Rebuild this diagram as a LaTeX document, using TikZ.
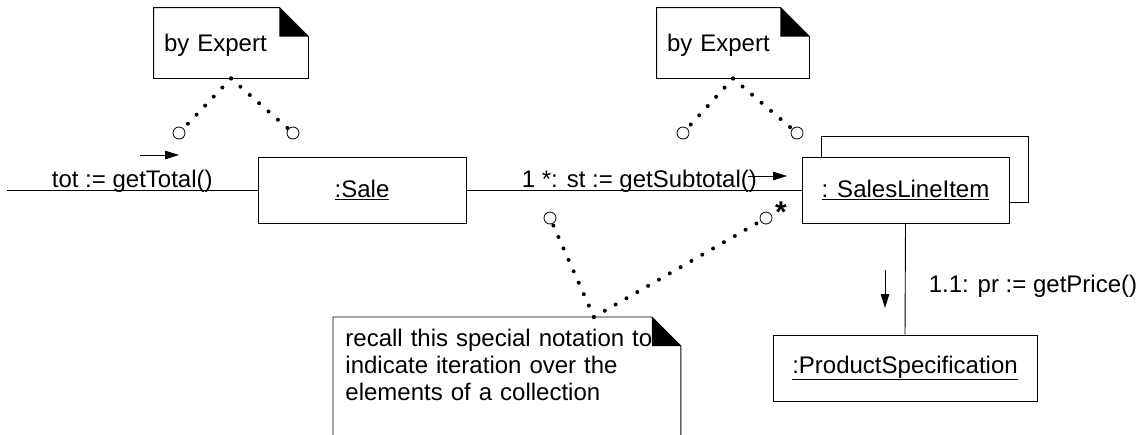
\documentclass[tikz,border=0pt]{standalone}
\usepackage{fontspec}
\setmainfont{Liberation Sans}
\usetikzlibrary{arrows.meta,calc,shadows}

\tikzset{
  obj/.style={draw, fill=white, minimum height=66pt, inner sep=0pt},
  note/.style={inner xsep=10pt, inner ysep=0pt, minimum height=70pt, align=left},
  port/.style={circle, draw, fill=white, line width=0.8pt, minimum size=12pt, inner sep=0pt},
  dotline/.style={line width=4pt, line cap=round, dash pattern=on 0pt off 12.5pt},
  msg/.style={-{Triangle[length=14pt,width=8.5pt]}},
}
% note outline with folded corner
\newcommand{\dogear}[2]{%
  \draw (#1.north west) -- ([xshift=-29pt]#1.north east)
    -- ([yshift=-29pt]#1.north east) -- (#1.east |- #2)
    -- (#1.west |- #2) -- cycle;
  \fill ([xshift=-29pt]#1.north east) -- ([xshift=-29pt,yshift=-29pt]#1.north east)
    -- ([yshift=-29pt]#1.north east) -- cycle;
}

\begin{document}
\begin{tikzpicture}[x=1pt,y=-1pt,line width=0.9pt,font=\fontsize{24}{27}\selectfont]
  \useasboundingbox (0,0) rectangle (1147,434);
  \clip (0,0) rectangle (1147,434);
  % objects
  \node[obj, minimum width=208pt] (sale) at (362,190) {\underline{:Sale}};
  \node[obj, minimum width=207pt,
    copy shadow={shadow xshift=19pt, shadow yshift=21pt}] (sli) at (905.5,190) {\underline{: SalesLineItem}};
  \node[obj, minimum width=264pt] (spec) at (905,368) {\underline{:ProductSpecification}};

  % notes
  \node[note, text width=134pt, text depth=0pt] (expA) at (231,43) {by Expert};
  \node[note, text width=132pt, text depth=0pt] (expB) at (733,43) {by Expert};
  \node[note, inner xsep=12pt, inner ysep=12pt, text width=323pt, minimum height=0pt,
    anchor=north west] (iter) at (333,317)
    {recall this special notation to\\indicate iteration over the\\elements of a collection};
  \coordinate (iterbot) at (333,450);
  \dogear{expA}{expA.south}
  \dogear{expB}{expB.south}
  \dogear{iter}{iterbot}

  % ends of the note links
  \node[port] (pA1) at (179,133) {};
  \node[port] (pA2) at (293,133) {};
  \node[port] (pB1) at (683,133) {};
  \node[port] (pB2) at (797,133) {};
  \node[port] (pC1) at (550,218) {};
  \node[port] (pC2) at (766,218) {};
  \node[font=\fontsize{30}{30}\selectfont\bfseries, inner sep=0pt] (many) at (781,212) {*};

  \draw[dotline] (expA.south) -- (pA1);
  \draw[dotline] (expA.south) -- (pA2);
  \draw[dotline] (expB.south) -- (pB1);
  \draw[dotline] (expB.south) -- (pB2);
  \coordinate (pin) at ($(iter.north west)!0.75!(iter.north east)$);
  \draw[dotline] (pin) -- (pC1);
  \draw[dotline] (pin) -- (pC2);

  % links
  \coordinate (caller) at (7,190);
  \draw (caller) -- (sale.west)
    node[midway, anchor=base, yshift=3pt] (totlbl) {tot := getTotal()};
  \draw (sale.east) -- (sli.west)
    node[pos=0.516, anchor=base, yshift=3pt] (sublbl) {1 *: st := getSubtotal()};
  \draw (sli.south) -- (spec.north);
  \node[anchor=base west] (pricelbl) at (925,292) {1.1: pr := getPrice()};

  % message arrows
  \coordinate (m1a) at (140,155);
  \coordinate (m1b) at (179,155);
  \coordinate (m2a) at (748,176);
  \coordinate (m2b) at (787,176);
  \coordinate (m3a) at (885,270);
  \coordinate (m3b) at (885,308);
  \draw[msg] (m1a) -- (m1b);
  \draw[msg] (m2a) -- (m2b);
  \draw[msg] (m3a) -- (m3b);
\end{tikzpicture}
\end{document}
